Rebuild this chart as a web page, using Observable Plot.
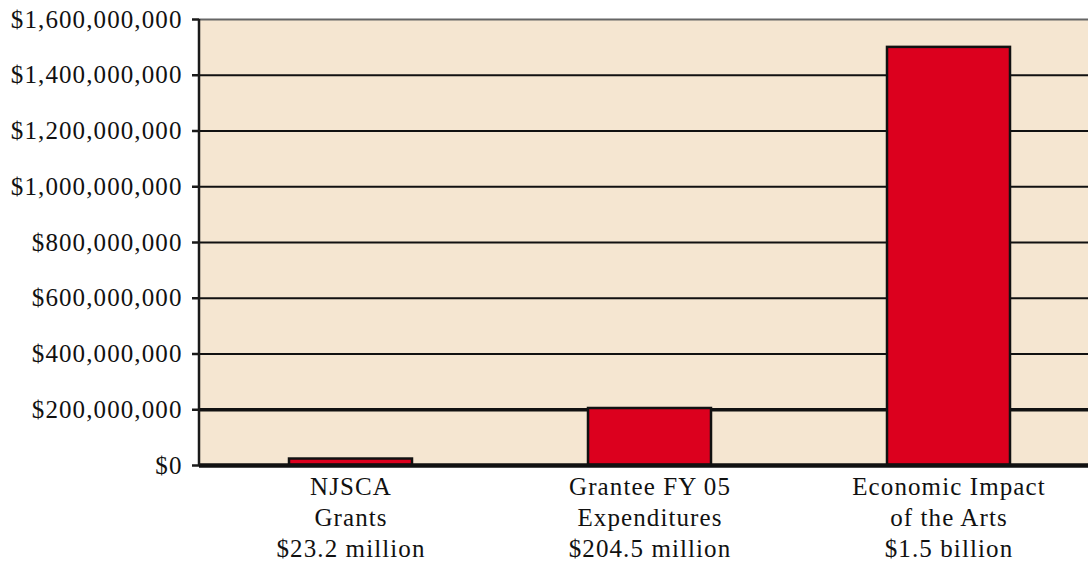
<!DOCTYPE html>
<html><head><meta charset="utf-8">
<script src="https://cdn.jsdelivr.net/npm/d3@7"></script>
<script src="https://cdn.jsdelivr.net/npm/@observablehq/plot@0.6"></script>
<style>
body{margin:0;background:#fff;}
#chart svg text{letter-spacing:1.1px;}
</style>
</head><body><div id="chart"></div>
<script>
const categories = ["NJSCA\nGrants\n$23.2 million", "Grantee FY 05\nExpenditures\n$204.5 million", "Economic Impact\nof the Arts\n$1.5 billion"];
const values = [23.2e6, 204.5e6, 1.5e9];
const yTicks = [0, 2e8, 4e8, 6e8, 8e8, 1e9, 1.2e9, 1.4e9, 1.6e9];
const gridThin = [4e8, 6e8, 8e8, 1e9, 1.2e9, 1.4e9];

const data = categories.map((c, i) => ({category: c, value: values[i]}));

const leftLine = (index, scales, values, dims) => {
  const g = d3.create("svg:line")
    .attr("x1", dims.marginLeft).attr("x2", dims.marginLeft)
    .attr("y1", dims.marginTop).attr("y2", dims.height - dims.marginBottom)
    .attr("stroke", "#1a1a1a").attr("stroke-width", 2.5);
  return g.node();
};

const chart = Plot.plot({
  width: 1088,
  height: 565,
  marginLeft: 199,
  marginRight: 0,
  marginTop: 19,
  marginBottom: 100,
  style: {fontFamily: "'Liberation Serif', serif", fontSize: "25px", color: "#111", background: "#fff"},
  x: {domain: categories, range: [200, 1098], paddingInner: 0.59, paddingOuter: 0.295, label: null},
  y: {domain: [0, 1.6e9], label: null},
  marks: [
    Plot.frame({fill: "#f5e6d1", stroke: null}),
    Plot.ruleY(gridThin, {stroke: "#111", strokeWidth: 2.2}),
    Plot.ruleY([2e8], {stroke: "#111", strokeWidth: 3.5}),
    Plot.ruleY([1.6e9], {stroke: "#666", strokeWidth: 2}),
    Plot.barY(data, {x: "category", y: "value", fill: "#dc001e", stroke: "#111", strokeWidth: 2.5}),
    Plot.ruleY([0], {stroke: "#111", strokeWidth: 4.5}),
    leftLine,
    Plot.axisY({ticks: yTicks, tickSize: 7, tickPadding: 10, tickFormat: d3.format("$,.0f"), fontSize: 25, stroke: "#1a1a1a", strokeWidth: 2.5, label: null}),
    Plot.axisX({tickSize: 0, tickPadding: 7, fontSize: 25, lineHeight: 1.24, label: null})
  ]
});
document.getElementById("chart").appendChild(chart);
</script>
</body></html>
